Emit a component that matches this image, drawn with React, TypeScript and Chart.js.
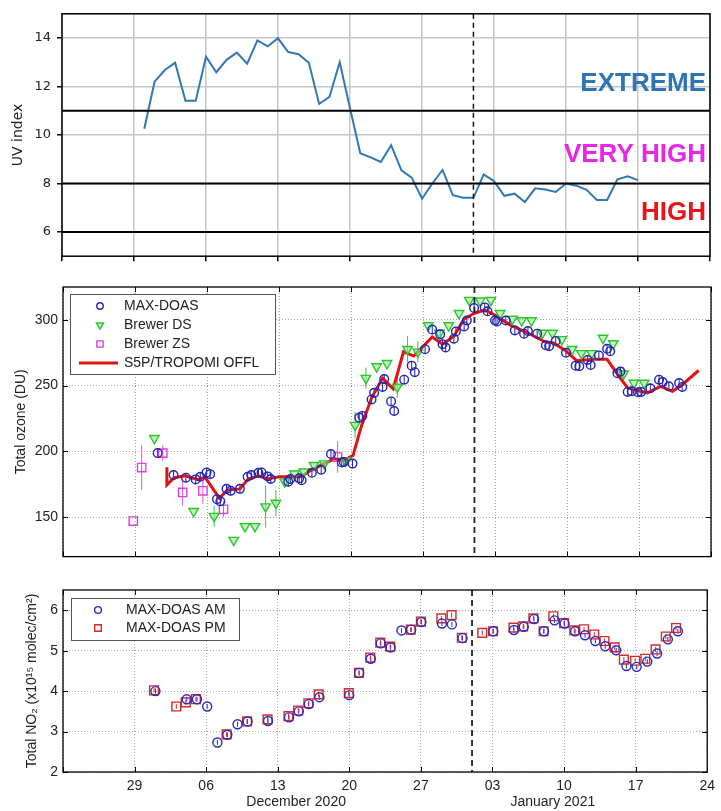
import React, { useEffect, useRef } from 'react';
import { Chart, registerables } from 'chart.js';

Chart.register(...registerables);

// ---------- shared x axis: days since 22 Nov 2020 ----------
const X_MIN = 0;
const X_MAX = 63;
const X_TICKS = [0, 7, 14, 21, 28, 35, 42, 49, 56, 63];
const X_TICK_LABELS = ['', '29', '06', '13', '20', '27', '03', '10', '17', '24'];
const NEW_YEAR_DAY = 40;
const MONTH_NAMES = ['December 2020', 'January 2021'];
const MONTH_CENTERS = [22.8, 47.9];

// ---------- panel 1: UV index ----------
const UV_DAYS = [8, 9, 10, 11, 12, 13, 14, 15, 16, 17, 18, 19, 20, 21, 22, 23, 24, 25, 26, 27, 28,
  29, 30, 31, 32, 33, 34, 35, 36, 37, 38, 39, 40, 41, 42, 43, 44, 45, 46, 47, 48, 49, 50, 51, 52, 53, 54, 55, 56];
const UV_VALUES = [10.26, 12.2, 12.68, 12.98, 11.41, 11.41, 13.23, 12.59, 13.1, 13.4, 12.94, 13.9, 13.66, 13.99,
  13.42, 13.33, 12.98, 11.28, 11.57, 13.0, 11.1,
  9.25, 9.08, 8.89, 9.58, 8.54, 8.24, 7.37, 8.0, 8.56, 7.52, 7.41, 7.41, 8.37, 8.1, 7.49, 7.58, 7.23, 7.8,
  7.75, 7.65, 8.0, 7.91, 7.74, 7.32, 7.32, 8.17, 8.3, 8.14];
const UV_TICKS = [6, 8, 10, 12, 14];
const UV_THRESHOLDS = [6, 8, 11];
const UV_CATEGORY_NAMES = ['EXTREME', 'VERY HIGH', 'HIGH'];
const UV_CATEGORY_LEVELS = [12.1, 9.2, 6.8];

// ---------- panel 2: total ozone ----------
const MAXDOAS_DAYS = [9.2, 10.75, 11.95, 12.9, 13.35, 13.96, 14.3, 14.97, 15.3, 15.9, 16.3, 17.2, 17.95, 18.3,
  19.0, 19.3, 19.9, 20.2, 21.9, 22.1, 22.96, 23.2, 24.2, 25.1, 26.05, 27.1, 27.3, 28.15, 28.8, 29.1, 30.0, 30.25,
  31.07, 31.23, 31.9, 32.2, 33.17, 33.9, 34.2, 35.2, 35.9, 36.67, 36.9, 37.2, 38.0, 38.2, 39.0, 39.26, 39.97,
  41.0, 41.27, 42.0, 42.2, 43.05, 43.93, 44.83, 45.2, 46.1, 46.94, 47.26, 47.9, 48.9, 49.85, 50.2, 51.0, 51.3,
  52.1, 52.9, 53.2, 53.9, 54.2, 54.9, 55.3, 55.9, 56.2, 57.1, 57.95, 58.3, 58.9, 59.9, 60.2];
const MAXDOAS_O3 = [198.7, 182, 180, 178.7, 180.7, 184, 182.7, 163.7, 162, 171.5, 170, 171.5, 180.7, 182,
  183.7, 184, 181, 179, 177, 179, 179.5, 178, 183.7, 186, 198, 191.5, 192, 190.7, 225.7, 227, 239.5, 244.5,
  249, 255, 238, 230.7, 254.5, 265.2, 260.2, 277.7, 292.7, 289, 281.5, 279, 285.7, 291.2, 295, 299.5, 309,
  309.5, 306.5, 299.5, 298.7, 299.5, 292, 289.5, 291.5, 289.5, 280.7, 280, 284, 275, 265.2, 264.7, 269.5, 265.7,
  273, 278, 276.2, 259.5, 260.7, 245.2, 245.7, 245, 245.2, 248, 254.5, 252.7, 249.5, 252, 249];
const MAXDOAS_ERR_DU = 3.5;

const BREWER_DS_DAYS = [8.88, 12.7, 14.7, 16.6, 17.7, 18.66, 19.7, 20.7, 21.56, 22.5, 23.4, 24.4, 25.4, 27.5,
  28.4, 29.45, 30.5, 31.5, 32.5, 33.5, 34.5, 35.5, 36.6, 37.5, 38.5, 39.5, 40.55, 41.6, 42.5, 43.7, 44.6, 45.55,
  46.6, 47.6, 48.5, 49.5, 50.4, 51.4, 52.5, 53.5, 54.5, 55.5, 56.5];
const BREWER_DS_O3 = [210, 154.5, 150.8, 132.5, 143, 143, 158, 160.7, 177, 183, 184.5, 189.5, 190.7, 193,
  220, 255.7, 264.5, 267, 249, 277.7, 275.7, 295.7, 290, 295.7, 305, 315, 314.5, 315, 305, 300.7, 299.5, 299.5,
  290, 290, 285.2, 277.7, 274.5, 274.5, 286.2, 282, 259, 252, 252];
const BREWER_DS_ERR = [0, 0, 8, 0, 0, 0, 16, 10, 0, 0, 0, 0, 0, 0,
  10, 8, 0, 0, 8, 10, 8, 0, 0, 0, 0, 0, 0, 0, 0, 0, 0, 0,
  0, 0, 0, 0, 0, 0, 0, 0, 5, 0, 0];

const BREWER_ZS_DAYS = [6.83, 7.65, 9.7, 11.63, 13.6, 15.6, 26.7];
const BREWER_ZS_O3 = [147, 187.7, 198.7, 168.8, 170, 156, 195.7];
const BREWER_ZS_ERR = [0, 17, 6, 10, 10, 6, 12];

const TROPOMI_DAYS = [10.1, 10.1, 10.8, 11.9, 13.1, 13.8, 15.2, 16.0, 17.2, 18.0, 19.0, 19.9, 21.0, 23.1, 24.2,
  25.1, 26.4, 27.3, 28.2, 29.0, 30.0, 31.07, 32.1, 33.1, 34.1, 35.9, 36.9, 38.0, 39.0, 40.0, 41.0, 41.9, 43.5,
  45.2, 46.9, 47.7, 48.8, 49.95, 51.6, 52.9, 54.1, 54.9, 56.8, 58.1, 59.25, 60.2, 61.8];
const TROPOMI_O3 = [188, 174.5, 180, 181.5, 178.5, 180.5, 164.5, 170.7, 171.5, 179, 181.5, 179, 180.7, 180.7, 186,
  189.5, 194.5, 193, 197, 219, 240.7, 255.7, 247.5, 275.7, 272.5, 287, 281.5, 287.5, 300.7, 305, 307.5, 304, 296,
  290, 283.2, 282.5, 277, 269, 270, 270, 256.5, 248.2, 244.5, 249.5, 245.7, 250.7, 261.5];
const O3_TICKS = [150, 200, 250, 300];

// ---------- panel 3: total NO2 ----------
const NO2_AM_DAYS = [9.04, 12.1, 13.1, 14.1, 15.1, 16.07, 17.07, 18.05, 20.05, 22.1, 23.06, 24.03, 25.07, 27.99,
  28.96, 30.1, 31.07, 32.04, 33.1, 34.05, 35.05, 37.06, 38.03, 39.07, 42.08, 44.1, 45.06, 46.06, 47.04, 48.07,
  49.05, 50.08, 51.05, 52.06, 53.03, 54.1, 55.1, 56.1, 57.14, 58.1, 59.15, 60.13];
const NO2_AM = [4.0, 3.8, 3.8, 3.62, 2.73, 2.92, 3.18, 3.25, 3.26, 3.35, 3.5, 3.68, 3.85, 3.9,
  4.45, 4.8, 5.18, 5.08, 5.5, 5.52, 5.71, 5.67, 5.65, 5.31, 5.48, 5.51, 5.59, 5.78, 5.48, 5.75,
  5.67, 5.48, 5.38, 5.24, 5.11, 5.01, 4.62, 4.6, 4.73, 4.93, 5.28, 5.48];
const NO2_PM_DAYS = [8.9, 11.08, 12.0, 13.0, 16.0, 18.0, 20.0, 22.05, 23.0, 24.0, 25.0, 27.95, 28.95, 30.05,
  31.03, 32.0, 34.0, 35.0, 37.0, 38.0, 39.0, 41.0, 42.05, 44.05, 45.0, 46.0, 47.0, 47.95, 49.0, 50.0, 50.95,
  51.95, 52.95, 53.95, 54.85, 55.95, 56.95, 57.95, 58.95, 59.95];
const NO2_PM = [4.02, 3.62, 3.72, 3.8, 2.93, 3.25, 3.3, 3.38, 3.52, 3.7, 3.92, 3.95, 4.45, 4.83,
  5.2, 5.1, 5.52, 5.72, 5.8, 5.88, 5.32, 5.44, 5.48, 5.57, 5.6, 5.8, 5.48, 5.85, 5.68, 5.5, 5.53,
  5.4, 5.24, 5.08, 4.78, 4.75, 4.8, 5.03, 5.35, 5.56];
const NO2_ERR = 0.06;
const NO2_TICKS = [2, 3, 4, 5, 6];

// ---------- styles ----------
const MPL_FONT = 'DejaVu Sans';
const ML_FONT = 'Liberation Sans, Arial, sans-serif';
const CATEGORY_COLORS = ['#2e75b6', '#e628e6', '#e8141c'];

const pts = (xs: number[], ys: number[]) => xs.map((x, i) => ({ x, y: ys[i] }));

function markerPath(ctx: CanvasRenderingContext2D, style: string, x: number, y: number, r: number, rot: number) {
  ctx.beginPath();
  if (style === 'circle') {
    ctx.arc(x, y, r, 0, Math.PI * 2);
  } else if (style === 'rect') {
    const s = r * Math.SQRT1_2;
    ctx.rect(x - s, y - s, 2 * s, 2 * s);
  } else if (style === 'triangle') {
    let a = (rot * Math.PI) / 180;
    ctx.moveTo(x + Math.sin(a) * r, y - Math.cos(a) * r);
    a += (2 * Math.PI) / 3;
    ctx.lineTo(x + Math.sin(a) * r, y - Math.cos(a) * r);
    a += (2 * Math.PI) / 3;
    ctx.lineTo(x + Math.sin(a) * r, y - Math.cos(a) * r);
    ctx.closePath();
  }
}

type DecorCfg = {
  box: number;
  inwardTicks?: boolean;
  mark?: { day: number; dash: number[]; width: number; color: string };
  bands?: boolean;
  legend?: { dx: number; dy: number; w: number; h: number; row0: number; rowH: number; markerDx: number; textDx: number; lineFrom: number; lineTo: number; markerScale: number };
  months?: number;
};

function makeDecor(cfg: DecorCfg) {
  return {
    id: 'panelDecor',
    beforeDatasetsDraw(chart: any) {
      const ctx = chart.ctx;
      const ys = chart.scales.y;
      chart.data.datasets.forEach((ds: any, i: number) => {
        const errs = ds.errors;
        if (errs == null) return;
        const meta = chart.getDatasetMeta(i);
        ctx.save();
        ctx.strokeStyle = ds.errorColor || ds.borderColor;
        ctx.lineWidth = 1;
        meta.data.forEach((el: any, j: number) => {
          const e = Array.isArray(errs) ? errs[j] : errs;
          if (!e) return;
          const v = ds.data[j].y;
          ctx.beginPath();
          ctx.moveTo(el.x, ys.getPixelForValue(v - e));
          ctx.lineTo(el.x, ys.getPixelForValue(v + e));
          ctx.stroke();
        });
        ctx.restore();
      });
    },
    afterDatasetsDraw(chart: any) {
      const { ctx, chartArea: ca } = chart;
      const xs = chart.scales.x;
      const ys = chart.scales.y;
      if (cfg.mark) {
        const px = xs.getPixelForValue(cfg.mark.day);
        ctx.save();
        ctx.setLineDash(cfg.mark.dash);
        ctx.lineWidth = cfg.mark.width;
        ctx.strokeStyle = cfg.mark.color;
        ctx.beginPath();
        ctx.moveTo(px, ca.top);
        ctx.lineTo(px, ca.bottom);
        ctx.stroke();
        ctx.restore();
      }
      if (cfg.bands) {
        ctx.save();
        ctx.font = `bold 26px ${ML_FONT}`;
        ctx.textAlign = 'right';
        ctx.textBaseline = 'middle';
        UV_CATEGORY_NAMES.forEach((name, i) => {
          ctx.fillStyle = CATEGORY_COLORS[i];
          ctx.fillText(name, ca.right - 4, ys.getPixelForValue(UV_CATEGORY_LEVELS[i]));
        });
        ctx.restore();
      }
    },
    afterDraw(chart: any) {
      const { ctx, chartArea: ca } = chart;
      const xs = chart.scales.x;
      const ys = chart.scales.y;
      ctx.save();
      if (cfg.inwardTicks) {
        ctx.strokeStyle = '#000';
        ctx.lineWidth = 1;
        ctx.beginPath();
        xs.ticks.forEach((t: any) => {
          const px = Math.round(xs.getPixelForValue(t.value)) + 0.5;
          ctx.moveTo(px, ca.top); ctx.lineTo(px, ca.top + 5);
          ctx.moveTo(px, ca.bottom); ctx.lineTo(px, ca.bottom - 5);
        });
        ys.ticks.forEach((t: any) => {
          const py = Math.round(ys.getPixelForValue(t.value)) + 0.5;
          ctx.moveTo(ca.left, py); ctx.lineTo(ca.left + 5, py);
          ctx.moveTo(ca.right, py); ctx.lineTo(ca.right - 5, py);
        });
        ctx.stroke();
      }
      ctx.strokeStyle = '#000';
      ctx.lineWidth = cfg.box;
      ctx.strokeRect(ca.left, ca.top, ca.right - ca.left, ca.bottom - ca.top);
      if (cfg.legend) {
        const L = cfg.legend;
        const bx = ca.left + L.dx;
        const by = ca.top + L.dy;
        ctx.fillStyle = '#fff';
        ctx.fillRect(bx, by, L.w, L.h);
        ctx.strokeStyle = '#555';
        ctx.lineWidth = 1;
        ctx.strokeRect(bx + 0.5, by + 0.5, L.w, L.h);
        ctx.font = `14px ${ML_FONT}`;
        ctx.textBaseline = 'middle';
        ctx.textAlign = 'left';
        let row = 0;
        chart.data.datasets.forEach((ds: any) => {
          if (!ds.label) return;
          const cy = by + L.row0 + row * L.rowH;
          if (ds.showLine) {
            ctx.strokeStyle = ds.borderColor;
            ctx.lineWidth = ds.borderWidth;
            ctx.beginPath();
            ctx.moveTo(bx + L.lineFrom, cy);
            ctx.lineTo(bx + L.lineTo, cy);
            ctx.stroke();
          } else {
            markerPath(ctx, ds.pointStyle, bx + L.markerDx, cy, ds.pointRadius * L.markerScale, ds.pointRotation || 0);
            ctx.fillStyle = ds.pointBackgroundColor || 'transparent';
            ctx.fill();
            ctx.strokeStyle = ds.pointBorderColor;
            ctx.lineWidth = ds.pointBorderWidth;
            ctx.stroke();
          }
          ctx.fillStyle = '#222';
          ctx.fillText(ds.label, bx + L.textDx, cy);
          row++;
        });
      }
      if (cfg.months != null) {
        ctx.font = `14px ${ML_FONT}`;
        ctx.fillStyle = '#222';
        ctx.textAlign = 'center';
        ctx.textBaseline = 'middle';
        MONTH_NAMES.forEach((m, i) => {
          ctx.fillText(m, xs.getPixelForValue(MONTH_CENTERS[i]), ca.bottom + (cfg.months as number));
        });
      }
      ctx.restore();
    },
  };
}

const setXTicks = (a: any) => { a.ticks = X_TICKS.map((v) => ({ value: v })); };
const fixedTicks = (vals: number[]) => (a: any) => { a.ticks = vals.map((v) => ({ value: v })); };

function baseOptions(padding: any) {
  return {
    responsive: false,
    animation: false as const,
    devicePixelRatio: 1,
    layout: { padding },
    plugins: { legend: { display: false }, tooltip: { enabled: false } },
    events: [] as any[],
  };
}

function uvConfig(): any {
  const thresholdSets = UV_THRESHOLDS.map((t) => ({
    data: [{ x: X_MIN, y: t }, { x: X_MAX, y: t }],
    showLine: true,
    borderColor: '#000',
    borderWidth: 2,
    pointRadius: 0,
  }));
  return {
    type: 'scatter',
    data: {
      datasets: [
        ...thresholdSets,
        {
          data: pts(UV_DAYS, UV_VALUES),
          showLine: true,
          borderColor: '#3079b6',
          borderWidth: 2,
          pointRadius: 0,
          tension: 0,
        },
      ],
    },
    options: {
      ...baseOptions({ left: 0, right: 11, top: 8, bottom: 0 }),
      scales: {
        x: {
          type: 'linear', min: X_MIN, max: X_MAX,
          afterBuildTicks: setXTicks,
          afterFit: (a: any) => { a.height = 8; },
          ticks: { display: false },
          grid: { color: '#c6c6c6', lineWidth: 1.5, tickColor: '#000', tickLength: 5, tickWidth: 1.5 },
          border: { display: false },
        },
        y: {
          type: 'linear', min: 5, max: 15,
          afterBuildTicks: fixedTicks(UV_TICKS),
          afterFit: (a: any) => { a.width = 62; },
          ticks: { font: { family: MPL_FONT, size: 13 }, color: '#222', padding: 6 },
          grid: { color: '#c6c6c6', lineWidth: 1.5, tickColor: '#000', tickLength: 5, tickWidth: 1.5 },
          border: { display: false },
          title: { display: true, text: 'UV index', font: { family: MPL_FONT, size: 14 }, color: '#222', padding: { top: 10, bottom: 0 } },
        },
      },
    },
    plugins: [makeDecor({ box: 1.5, mark: { day: NEW_YEAR_DAY, dash: [5, 4], width: 1.5, color: '#111' }, bands: true })],
  };
}

function matlabAxes(yMin: number, yMax: number, yTicks: number[], title: string, titlePad: number, xHeight: number, xLabels: boolean) {
  return {
    x: {
      type: 'linear', min: X_MIN, max: X_MAX,
      afterBuildTicks: setXTicks,
      afterFit: (a: any) => { a.height = xHeight; },
      ticks: {
        display: xLabels,
        font: { family: ML_FONT, size: 14 }, color: '#222', padding: 6,
        callback: (_v: any, i: number) => X_TICK_LABELS[i],
        maxRotation: 0, autoSkip: false,
      },
      grid: { color: '#a8a8a8', lineWidth: 1, drawTicks: false },
      border: { display: false, dash: [1, 2] },
    },
    y: {
      type: 'linear', min: yMin, max: yMax,
      afterBuildTicks: fixedTicks(yTicks),
      afterFit: (a: any) => { a.width = 63; },
      ticks: { font: { family: ML_FONT, size: 14 }, color: '#222', padding: 5 },
      grid: { color: '#a8a8a8', lineWidth: 1, drawTicks: false },
      border: { display: false, dash: [1, 2] },
      title: { display: true, text: title, font: { family: ML_FONT, size: 14 }, color: '#222', padding: { top: titlePad, bottom: 0 } },
    },
  };
}

function ozoneConfig(): any {
  return {
    type: 'scatter',
    data: {
      datasets: [
        {
          label: 'MAX-DOAS',
          data: pts(MAXDOAS_DAYS, MAXDOAS_O3),
          errors: MAXDOAS_ERR_DU,
          pointStyle: 'circle', pointRadius: 4.3,
          borderColor: '#2424b4', pointBorderColor: '#2424b4', pointBackgroundColor: 'rgba(0,0,0,0)', pointBorderWidth: 1.4,
        },
        {
          label: 'Brewer DS',
          data: pts(BREWER_DS_DAYS, BREWER_DS_O3),
          errors: BREWER_DS_ERR,
          pointStyle: 'triangle', pointRotation: 180, pointRadius: 5.5,
          borderColor: '#33cc33', pointBorderColor: '#2fc42f', pointBackgroundColor: 'rgba(150,238,150,0.6)', pointBorderWidth: 1.4,
        },
        {
          label: 'Brewer ZS',
          data: pts(BREWER_ZS_DAYS, BREWER_ZS_O3),
          errors: BREWER_ZS_ERR,
          pointStyle: 'rect', pointRadius: 5.9,
          borderColor: '#e050e0', pointBorderColor: '#e040e0', pointBackgroundColor: 'rgba(0,0,0,0)', pointBorderWidth: 1.4,
        },
        {
          label: 'S5P/TROPOMI OFFL',
          data: pts(TROPOMI_DAYS, TROPOMI_O3),
          showLine: true,
          borderColor: '#e01212', borderWidth: 3, pointRadius: 0, tension: 0,
        },
      ],
    },
    options: {
      ...baseOptions({ left: 0, right: 10, top: 17, bottom: 0 }),
      scales: matlabAxes(120, 325, O3_TICKS, 'Total ozone (DU)', 13, 10, false),
    },
    plugins: [makeDecor({
      box: 1.3, inwardTicks: true,
      mark: { day: NEW_YEAR_DAY, dash: [6, 4], width: 1.8, color: '#222' },
      legend: { dx: 7, dy: 7, w: 205, h: 80, row0: 12, rowH: 19, markerDx: 30, textDx: 54, lineFrom: 9, lineTo: 48, markerScale: 0.75 },
    })],
  };
}

function no2Config(): any {
  return {
    type: 'scatter',
    data: {
      datasets: [
        {
          label: 'MAX-DOAS AM',
          data: pts(NO2_AM_DAYS, NO2_AM),
          errors: NO2_ERR,
          pointStyle: 'circle', pointRadius: 4.5,
          borderColor: '#2a2ac4', pointBorderColor: '#2a2ac4', pointBackgroundColor: 'rgba(0,0,0,0)', pointBorderWidth: 1.4,
        },
        {
          label: 'MAX-DOAS PM',
          data: pts(NO2_PM_DAYS, NO2_PM),
          errors: NO2_ERR,
          pointStyle: 'rect', pointRadius: 6.2,
          borderColor: '#d42a2a', pointBorderColor: '#d42a2a', pointBackgroundColor: 'rgba(0,0,0,0)', pointBorderWidth: 1.4,
        },
      ],
    },
    options: {
      ...baseOptions({ left: 0, right: 10, top: 20, bottom: 0 }),
      scales: matlabAxes(2, 6.5, NO2_TICKS, 'Total NO\u2082 (x10\u00b9\u2075 molec/cm\u00b2)', 24, 39, true),
    },
    plugins: [makeDecor({
      box: 1.3, inwardTicks: true,
      mark: { day: NEW_YEAR_DAY, dash: [6, 4], width: 1.8, color: '#222' },
      legend: { dx: 8, dy: 8, w: 168, h: 42, row0: 12, rowH: 18, markerDx: 27, textDx: 55, lineFrom: 10, lineTo: 50, markerScale: 0.75 },
      months: 30,
    })],
  };
}

export default function App() {
  const c1 = useRef<HTMLCanvasElement>(null);
  const c2 = useRef<HTMLCanvasElement>(null);
  const c3 = useRef<HTMLCanvasElement>(null);

  useEffect(() => {
    document.body.style.margin = '0';
    const charts = [
      new Chart(c1.current as HTMLCanvasElement, uvConfig()),
      new Chart(c2.current as HTMLCanvasElement, ozoneConfig()),
      new Chart(c3.current as HTMLCanvasElement, no2Config()),
    ];
    return () => charts.forEach((c) => c.destroy());
  }, []);

  return (
    <div style={{ position: 'relative', width: 721, height: 811, background: '#fff' }}>
      <canvas ref={c1} width={721} height={270} style={{ position: 'absolute', left: 0, top: 0 }} />
      <canvas ref={c2} width={721} height={300} style={{ position: 'absolute', left: 0, top: 270 }} />
      <canvas ref={c3} width={721} height={241} style={{ position: 'absolute', left: 0, top: 570 }} />
    </div>
  );
}
